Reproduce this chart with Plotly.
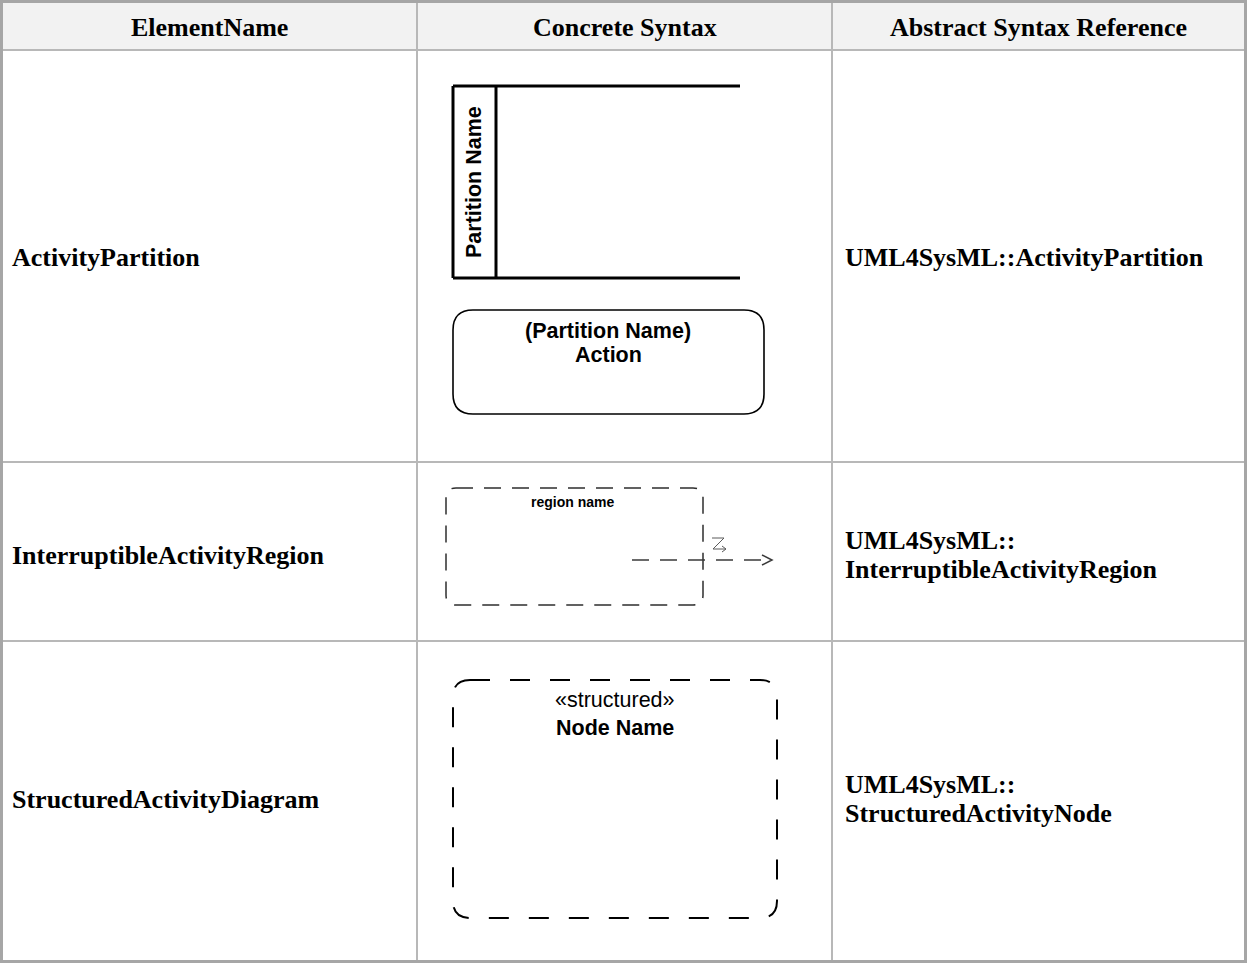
import plotly.graph_objects as go

# ---- content ----
headers = ["ElementName", "Concrete Syntax", "Abstract Syntax Reference"]
element_names = ["ActivityPartition", "InterruptibleActivityRegion", "StructuredActivityDiagram"]
abstract_refs = [
    ["UML4SysML::ActivityPartition"],
    ["UML4SysML::", "InterruptibleActivityRegion"],
    ["UML4SysML::", "StructuredActivityNode"],
]
partition_label = "Partition Name"
action_lines = ["(Partition Name)", "Action"]
region_label = "region name"
structured_lines = ["«structured»", "Node Name"]

# ---- layout geometry (pixels) ----
W, H = 1247, 963
col_edges = [1, 417, 832, 1245]
row_edges = [1, 50, 462, 641, 962]
SERIF = "Liberation Serif, Times New Roman, serif"
SANS = "Liberation Sans, Arial, sans-serif"

fig = go.Figure()
shapes = []
annotations = []

# header background
shapes.append(dict(type="rect", x0=col_edges[0], x1=col_edges[-1], y0=row_edges[0], y1=row_edges[1],
                   fillcolor="#f2f2f2", line=dict(width=0), layer="below"))

# inner borders
for x in col_edges[1:-1]:
    shapes.append(dict(type="line", x0=x, x1=x, y0=row_edges[0], y1=row_edges[-1],
                       line=dict(color="#b8b8b8", width=2)))
for y in row_edges[1:-1]:
    shapes.append(dict(type="line", x0=col_edges[0], x1=col_edges[-1], y0=y, y1=y,
                       line=dict(color="#b8b8b8", width=2)))
# outer border
shapes.append(dict(type="rect", x0=1.5, x1=1245.5, y0=1.5, y1=961.5,
                   line=dict(color="#a6a6a6", width=3)))

# header texts
for i, h in enumerate(headers):
    annotations.append(dict(x=(col_edges[i] + col_edges[i + 1]) / 2, y=27, text=h,
                            font=dict(family=SERIF, size=26, color="black", weight="bold"),
                            xanchor="center", yanchor="middle", showarrow=False))

row_mid = [257, 555, 799]
for i, name in enumerate(element_names):
    annotations.append(dict(x=10, y=row_mid[i], text=name,
                            font=dict(family=SERIF, size=26, color="black", weight="bold"),
                            xanchor="left", yanchor="middle", showarrow=False))
    lines = abstract_refs[i]
    n = len(lines)
    for j, t in enumerate(lines):
        yy = row_mid[i] + (j - (n - 1) / 2) * 29
        annotations.append(dict(x=843, y=yy, text=t,
                                font=dict(family=SERIF, size=26, color="black", weight="bold"),
                                xanchor="left", yanchor="middle", showarrow=False))


def rrect(x0, y0, x1, y1, r):
    return (f"M {x0 + r},{y0} L {x1 - r},{y0} Q {x1},{y0} {x1},{y0 + r} "
            f"L {x1},{y1 - r} Q {x1},{y1} {x1 - r},{y1} L {x0 + r},{y1} "
            f"Q {x0},{y1} {x0},{y1 - r} L {x0},{y0 + r} Q {x0},{y0} {x0 + r},{y0} Z")


# ---- ActivityPartition diagram ----
blk = dict(color="black", width=3)
shapes.append(dict(type="line", x0=453, x1=740, y0=86, y1=86, line=blk))
shapes.append(dict(type="line", x0=453, x1=740, y0=278, y1=278, line=blk))
shapes.append(dict(type="line", x0=453, x1=453, y0=86, y1=278, line=blk))
shapes.append(dict(type="line", x0=496, x1=496, y0=86, y1=278, line=blk))
annotations.append(dict(x=474, y=182, text=partition_label, textangle=-90,
                        font=dict(family=SANS, size=21.5, color="black", weight="bold"),
                        xanchor="center", yanchor="middle", showarrow=False))
shapes.append(dict(type="path", path=rrect(453, 310, 764, 414, 20),
                   line=dict(color="black", width=1.6)))
for j, t in enumerate(action_lines):
    annotations.append(dict(x=608, y=331 + j * 24, text=t,
                            font=dict(family=SANS, size=21.5, color="black", weight="bold"),
                            xanchor="center", yanchor="middle", showarrow=False))

# ---- InterruptibleActivityRegion diagram ----
gray = "#2e2e2e"
shapes.append(dict(type="path", path=rrect(446, 488, 703, 605, 10),
                   line=dict(color=gray, width=1.5, dash="17px,11px")))
annotations.append(dict(x=572, y=502, text=region_label,
                        font=dict(family=SANS, size=14, color="black", weight="bold"),
                        xanchor="center", yanchor="middle", showarrow=False))
shapes.append(dict(type="path", path="M 632,560 L 771,560",
                   line=dict(color="#3a3a3a", width=1.5, dash="17px,11px")))
shapes.append(dict(type="path", path="M 762,555 L 772,560 L 762,565",
                   line=dict(color="#3a3a3a", width=1.5)))
shapes.append(dict(type="path", path="M 712,538 L 724,538 L 713,549 L 726,549",
                   line=dict(color="#5a5a5a", width=1)))
shapes.append(dict(type="path", path="M 722,546 L 726,549 L 722,552",
                   line=dict(color="#5a5a5a", width=1)))

# ---- StructuredActivityNode diagram ----
shapes.append(dict(type="path", path=rrect(453, 680, 777, 918, 17),
                   line=dict(color="black", width=2, dash="20px,20px")))
annotations.append(dict(x=615, y=700, text=structured_lines[0],
                        font=dict(family=SANS, size=21.5, color="black"),
                        xanchor="center", yanchor="middle", showarrow=False))
annotations.append(dict(x=615, y=728, text=structured_lines[1],
                        font=dict(family=SANS, size=21.5, color="black", weight="bold"),
                        xanchor="center", yanchor="middle", showarrow=False))

fig.update_layout(
    width=W, height=H, margin=dict(l=0, r=0, t=0, b=0),
    paper_bgcolor="white", plot_bgcolor="white",
    xaxis=dict(range=[0, W], visible=False, fixedrange=True),
    yaxis=dict(range=[H, 0], visible=False, fixedrange=True),
    shapes=shapes, annotations=annotations, showlegend=False,
)
fig.write_html("out.html", config={"displayModeBar": False},
               post_script="document.body.style.margin='0';document.body.style.padding='0';"
                           "document.body.style.overflow='hidden';")
